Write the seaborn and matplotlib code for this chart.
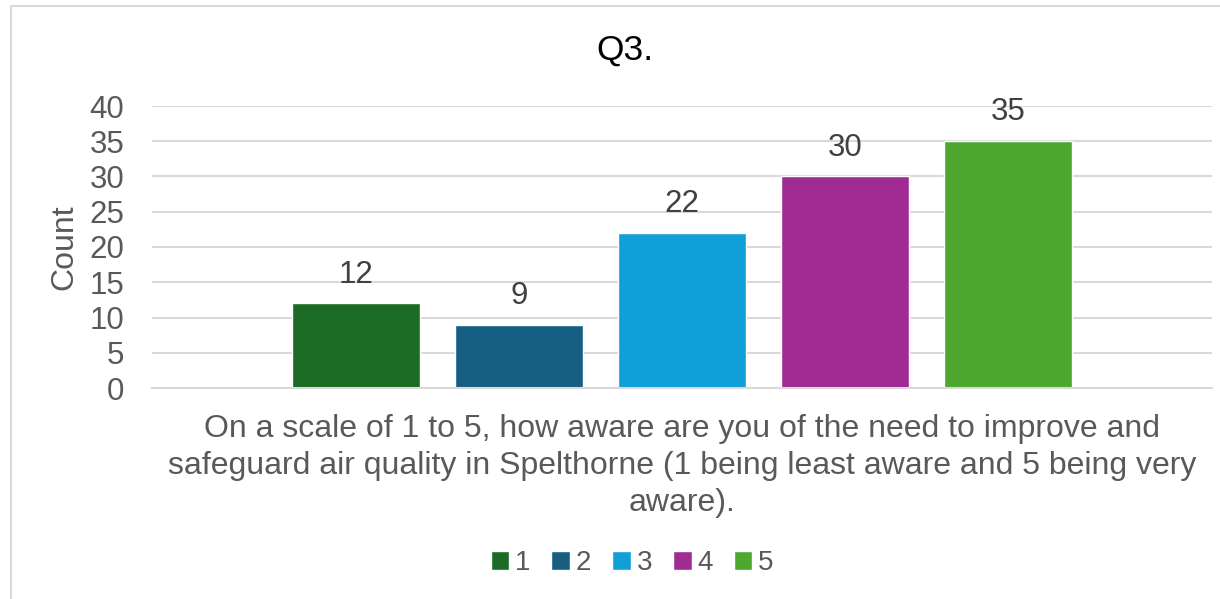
import matplotlib
matplotlib.use("Agg")
import matplotlib.pyplot as plt
import seaborn as sns
import pandas as pd
from matplotlib.patches import Rectangle

# ---- data ----
question = ("On a scale of 1 to 5, how aware are you of the need to improve and\n"
            "safeguard air quality in Spelthorne (1 being least aware and 5 being very\n"
            "aware).")
ratings = ["1", "2", "3", "4", "5"]
counts = [12, 9, 22, 30, 35]
colors = ["#1B6B24", "#165F82", "#119FD7", "#A02B93", "#4EA72E"]
title = "Q3."
ylabel = "Count"
yticks = [0, 5, 10, 15, 20, 25, 30, 35, 40]

df = pd.DataFrame({"question": [question] * len(ratings),
                   "rating": ratings,
                   "count": counts})

sns.set_theme(style="white")
plt.rcParams["font.family"] = ["Liberation Sans", "DejaVu Sans"]

W, H = 1220, 599
fig = plt.figure(figsize=(W / 100, H / 100), dpi=100)
fig.patch.set_facecolor("white")

ax = fig.add_axes([152 / W, 1 - 388 / H, (1212 - 152) / W, (388 - 106) / H])

sns.barplot(data=df, x="question", y="count", hue="rating",
            hue_order=ratings, palette=colors, width=0.769, gap=0.215,
            saturation=1, ax=ax, legend=True, errorbar=None)

ax.set_xlim(-0.5, 0.5)
ax.set_ylim(0, 40)
ax.set_yticks(yticks)
ax.yaxis.grid(True, color="#D9D9D9", linewidth=1.5)
ax.set_axisbelow(True)
for s in ["top", "right", "left"]:
    ax.spines[s].set_visible(False)
ax.spines["bottom"].set_color("#D9D9D9")
ax.spines["bottom"].set_linewidth(1.5)

ax.tick_params(axis="y", length=0, pad=20, labelsize=22.5, labelcolor="#595959")
ax.tick_params(axis="x", length=0, pad=19, labelsize=23, labelcolor="#595959")
for t in ax.get_xticklabels():
    t.set_linespacing(1.3)
ax.set_xlabel("")
ax.set_ylabel(ylabel, fontsize=23, color="#595959")
ax.yaxis.set_label_coords((79 - 152) / (1212 - 152), 0.5)

for c in ax.containers:
    ax.bar_label(c, fmt="%d", padding=10, fontsize=22.5, color="#404040")

fig.text(625 / W, 1 - 50 / H, title, ha="center", va="center",
         fontsize=25.5, color="black")

sns.move_legend(ax, "center", bbox_to_anchor=(632 / W, 1 - 563 / H),
                bbox_transform=fig.transFigure, ncol=5, frameon=False,
                title=None, fontsize=20, handlelength=0.68, handleheight=0.68,
                handletextpad=0.2, columnspacing=0.75)
for t in ax.get_legend().get_texts():
    t.set_color("#595959")

fig.patches.append(Rectangle((10.5 / W, -0.1), 1.2, 1 - 6.5 / H + 0.1,
                             transform=fig.transFigure, fill=False,
                             edgecolor="#D9D9D9", linewidth=1.5, zorder=0))

fig.savefig("out.png", dpi=100)
